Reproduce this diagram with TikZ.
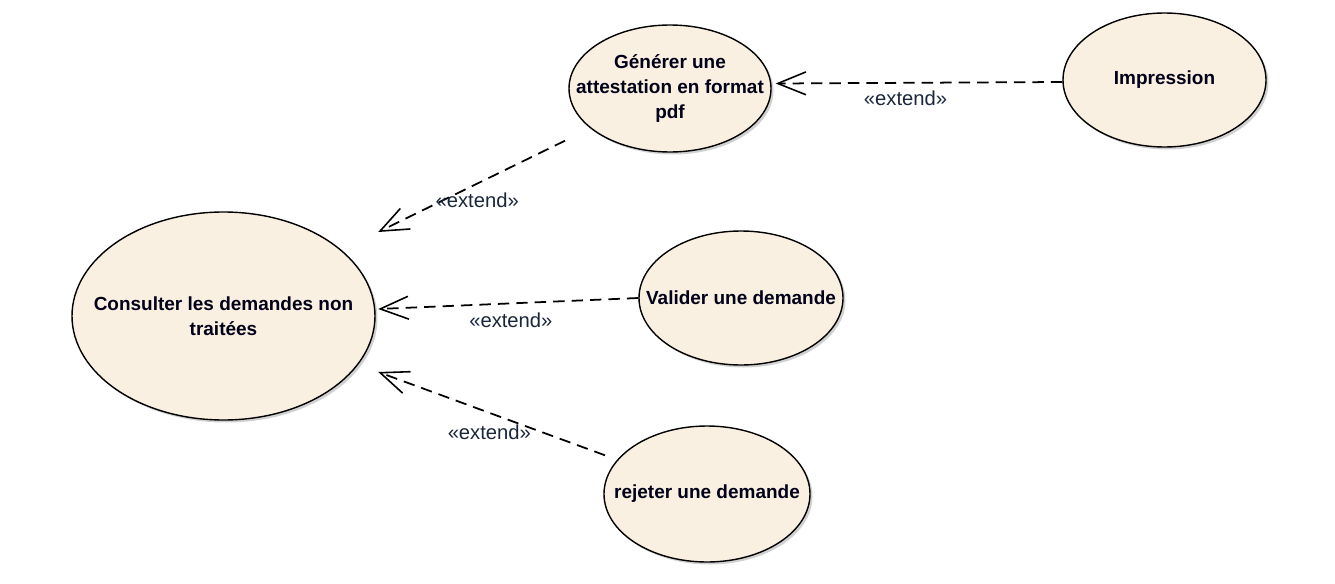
\documentclass[tikz,border=0pt]{standalone}
\usepackage{fontspec}
\setmainfont{Liberation Sans}
\usetikzlibrary{shapes.geometric,arrows.meta,shadows}
\definecolor{ucfill}{RGB}{250,240,225}
\definecolor{lblink}{RGB}{26,38,60}
\tikzset{
	uc/.style={ellipse, draw=black, line width=0.8pt, fill=ucfill, inner sep=0pt,
		drop shadow={shadow xshift=0.05cm, shadow yshift=-0.05cm, fill=black!30, opacity=0.6}},
	uctext/.style={font=\bfseries\fontsize{10.8}{14}\selectfont, align=center, text=black!90!blue},
	ext/.style={line width=1pt, dash pattern=on 6.5pt off 4pt, -{Straight Barb[length=16pt,width=13pt,line width=0.9pt]}},
	extlbl/.style={font=\fontsize{11.5}{12}\selectfont, text=lblink}
}

\begin{document}
\begin{tikzpicture}
		%%%%% START %%%%%
		\useasboundingbox (0, 0) rectangle (26.7, -11.66);
		
		\node[uc, minimum width=6.06cm, minimum height=4.16cm, label={[uctext]center:Consulter les demandes non\\traitées}] (cons) at (4.47, -6.32) {};
		\node[uc, minimum width=4.04cm, minimum height=2.54cm, label={[uctext]center:Générer une\\attestation en format\\pdf}] (gen) at (13.4, -1.77) {};
		\node[uc, minimum width=4.06cm, minimum height=2.68cm, label={[uctext]center:Impression}] (imp) at (23.29, -1.6) {};
		\node[uc, minimum width=4.08cm, minimum height=2.68cm, label={[uctext]center:Valider une demande}] (val) at (14.82, -5.96) {};
		\node[uc, minimum width=4.12cm, minimum height=2.72cm, label={[uctext]center:rejeter une demande}] (rej) at (14.14, -9.88) {};
		
		\draw[ext] ([shift={(-2.1, 0.24)}]gen.south) -- node[extlbl, pos=0.47, yshift=-0.34cm] {«extend»} ([shift={(0.05, 1.68)}]cons.east);
		\draw[ext] (val.west) -- node[extlbl, pos=0.49, yshift=-0.33cm] {«extend»} ([shift={(0.05, 0.14)}]cons.east);
		\draw[ext] ([shift={(-2.04, -0.6)}]rej.north) -- node[extlbl, pos=0.51, yshift=-0.38cm] {«extend»} ([shift={(0.05, -1.12)}]cons.east);
		\draw[ext] ([yshift=-0.04cm]imp.west) -- node[extlbl, pos=0.547, yshift=-0.3cm] {«extend»} ([shift={(0.08, 0.1)}]gen.east);
		
		%%%%% END %%%%%
	\end{tikzpicture}
\end{document}
